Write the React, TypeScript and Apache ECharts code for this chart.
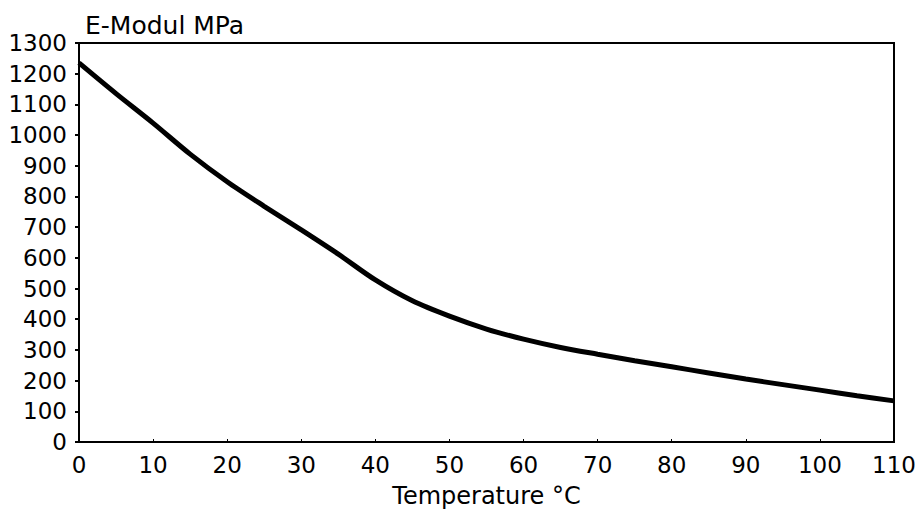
import React, { useEffect, useRef } from "react";
import * as echarts from "echarts";

const temperatures = [0, 5, 10, 15, 20, 25, 30, 35, 40, 45, 50, 55, 60, 65, 70, 75, 80, 85, 90, 95, 100, 105, 110];
const modulus = [1235, 1135, 1039, 938, 848, 768, 691, 612, 528, 460, 410, 368, 335, 308, 286, 265, 245, 225, 205, 187, 169, 151, 134];
const yTicks = [0, 100, 200, 300, 400, 500, 600, 700, 800, 900, 1000, 1100, 1200, 1300];
const xTicks = [0, 10, 20, 30, 40, 50, 60, 70, 80, 90, 100, 110];

const FONT = "DejaVu Sans";

export default function App() {
  const ref = useRef<HTMLDivElement>(null);
  useEffect(() => {
    if (!ref.current) return;
    const chart = echarts.init(ref.current, undefined, { renderer: "svg" });
    chart.setOption({
      animation: false,
      backgroundColor: "#ffffff",
      title: {
        text: "E-Modul MPa",
        left: 80,
        top: 8,
        textStyle: { fontFamily: FONT, fontSize: 25, fontWeight: "normal", color: "#000" },
      },
      grid: {
        left: 79,
        right: 25,
        top: 43,
        bottom: 71,
        show: true,
        borderColor: "#000",
        borderWidth: 2,
        backgroundColor: "transparent",
      },
      xAxis: {
        type: "value",
        min: xTicks[0],
        max: xTicks[xTicks.length - 1],
        interval: 10,
        name: "Temperature °C",
        nameLocation: "middle",
        nameGap: 42,
        nameTextStyle: { fontFamily: FONT, fontSize: 24, color: "#000" },
        axisLine: { show: true, lineStyle: { color: "#000", width: 2 } },
        axisTick: { show: true, inside: true, length: 3, lineStyle: { color: "#000", width: 1 } },
        axisLabel: { fontFamily: FONT, fontSize: 23, color: "#000", margin: 11, formatter: (v: number) => String(v) },
        splitLine: { show: false },
      },
      yAxis: {
        type: "value",
        min: yTicks[0],
        max: yTicks[yTicks.length - 1],
        interval: 100,
        axisLine: { show: true, lineStyle: { color: "#000", width: 2 } },
        axisTick: { show: true, inside: false, length: 4, lineStyle: { color: "#000", width: 2 } },
        axisLabel: { fontFamily: FONT, fontSize: 23, color: "#000", margin: 12, formatter: (v: number) => String(v) },
        splitLine: { show: false },
      },
      series: [
        {
          type: "line",
          data: temperatures.map((t, i) => [t, modulus[i]]),
          smooth: 0.3,
          showSymbol: false,
          lineStyle: { color: "#000", width: 5 },
        },
      ],
    });
    return () => chart.dispose();
  }, []);
  return (
    <div
      ref={ref}
      style={{ position: "fixed", left: 0, top: 0, width: 919, height: 513, background: "#fff" }}
    />
  );
}
